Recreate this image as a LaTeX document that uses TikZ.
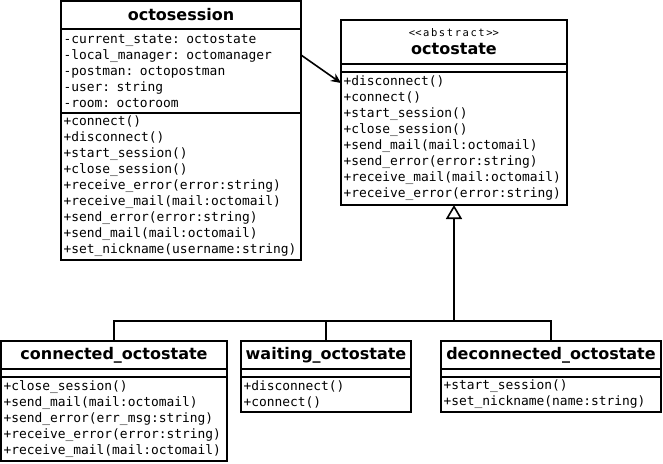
\documentclass[tikz,border=0pt]{standalone}
\usepackage{fontspec}
\setmainfont{DejaVu Sans}
\newfontfamily\codefont{DejaVu Sans Mono}
\newfontfamily\stereotypefont{DejaVu Sans Mono}[LetterSpace=15]
\usetikzlibrary{positioning,arrows.meta}

\begin{document}
\begin{tikzpicture}[
        x=1pt, y=-1pt,
        umlbox/.style={draw, line width=1.6pt, inner xsep=2.5pt, inner ysep=0pt, outer sep=0pt, anchor=north west},
        classname/.style={umlbox, font=\fontsize{16}{18}\selectfont\bfseries, align=center},
        members/.style={umlbox, font=\codefont\fontsize{12.9}{16}\selectfont, align=left},
        assoc/.style={line width=1.6pt, -{Stealth[length=10pt, width=9pt]}},
        inherit/.style={line width=1.6pt} % generalization lines
    ]
    \useasboundingbox (0,0) rectangle (663,463);

    % --- octosession ---
    \node[classname, minimum width=240pt, minimum height=28pt] (sesstitle) at (61,1) {octosession};
    \node[members, below=0pt of sesstitle, text width=235pt, minimum height=84pt] (sessattr)
        {-current\_state: octostate\\-local\_manager: octomanager\\-postman: octopostman\\-user: string\\-room: octoroom};
    \node[members, below=0pt of sessattr, text width=235pt, minimum height=147pt] (sessops)
        {+connect()\\+disconnect()\\+start\_session()\\+close\_session()\\+receive\_error(error:string)\\+receive\_mail(mail:octomail)\\+send\_error(error:string)\\+send\_mail(mail:octomail)\\+set\_nickname(username:string)};

    % --- octostate (abstract) ---
    \node[classname, minimum width=226pt, minimum height=44pt] (statetitle) at (341,20)
        {{\stereotypefont\fontsize{10.5}{12}\selectfont\mdseries <\kern0pt<abstract>\kern0pt>}\\octostate};
    \node[members, below=0pt of statetitle, text width=221pt, minimum height=8pt] (stateattr) {};
    \node[members, below=0pt of stateattr, text width=221pt, minimum height=133pt] (stateops)
        {+disconnect()\\+connect()\\+start\_session()\\+close\_session()\\+send\_mail(mail:octomail)\\+send\_error(error:string)\\+receive\_mail(mail:octomail)\\+receive\_error(error:string)};

    % --- connected_octostate ---
    \node[classname, minimum width=226pt, minimum height=28pt] (conntitle) at (1,341) {connected\_octostate};
    \node[members, below=0pt of conntitle, text width=221pt, minimum height=8pt] (connattr) {};
    \node[members, below=0pt of connattr, text width=221pt, minimum height=84pt] (connops)
        {+close\_session()\\+send\_mail(mail:octomail)\\+send\_error(err\_msg:string)\\+receive\_error(error:string)\\+receive\_mail(mail:octomail)};

    % --- waiting_octostate ---
    \node[classname, minimum width=170pt, minimum height=28pt] (waittitle) at (241,341) {waiting\_octostate};
    \node[members, below=0pt of waittitle, text width=165pt, minimum height=8pt] (waitattr) {};
    \node[members, below=0pt of waitattr, text width=165pt, minimum height=35pt] (waitops)
        {+disconnect()\\+connect()};

    % --- deconnected_octostate ---
    \node[classname, minimum width=220pt, minimum height=28pt] (decotitle) at (441,341) {deconnected\_octostate};
    \node[members, below=0pt of decotitle, text width=215pt, minimum height=8pt] (decoattr) {};
    \node[members, below=0pt of decoattr, text width=215pt, minimum height=35pt] (decoops)
        {+start\_session()\\+set\_nickname(name:string)};

    % --- Association ---
    \draw[assoc] ([yshift=16pt]sessattr.east) -- ([yshift=-11pt]stateops.north west);

    % --- Generalization ---
    \coordinate (bus) at (454,321);
    \draw[inherit] (conntitle.north) |- (bus) -| (decotitle.north);
    \draw[inherit] (waittitle.north) -- (waittitle.north |- bus);
    \draw[inherit, -{Triangle[open, length=14pt, width=16pt]}] (bus) -- (stateops.south);

\end{tikzpicture}
\end{document}
